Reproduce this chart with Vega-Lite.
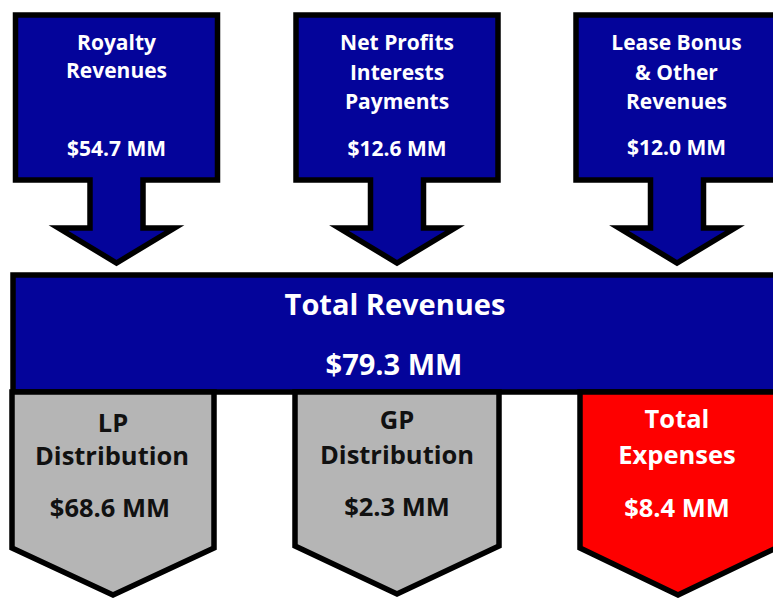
{
  "$schema": "https://vega.github.io/schema/vega-lite/v6.json",
  "width": 773,
  "height": 598,
  "padding": 0,
  "autosize": {"type": "fit", "contains": "padding"},
  "background": "white",
  "config": {"view": {"stroke": null}},
  "datasets": {
    "navy": [
      {"shape": "A", "i": 0, "x": 116.5, "y": 15},
      {"shape": "A", "i": 1, "x": 217.5, "y": 15},
      {"shape": "A", "i": 2, "x": 217.5, "y": 180},
      {"shape": "A", "i": 3, "x": 143, "y": 180},
      {"shape": "A", "i": 4, "x": 143, "y": 228},
      {"shape": "A", "i": 5, "x": 174.5, "y": 228},
      {"shape": "A", "i": 6, "x": 116.5, "y": 263},
      {"shape": "A", "i": 7, "x": 58.5, "y": 228},
      {"shape": "A", "i": 8, "x": 90, "y": 228},
      {"shape": "A", "i": 9, "x": 90, "y": 180},
      {"shape": "A", "i": 10, "x": 15.5, "y": 180},
      {"shape": "A", "i": 11, "x": 15.5, "y": 15},
      {"shape": "A", "i": 12, "x": 116.5, "y": 15},
      {"shape": "B", "i": 0, "x": 397, "y": 15},
      {"shape": "B", "i": 1, "x": 498, "y": 15},
      {"shape": "B", "i": 2, "x": 498, "y": 180},
      {"shape": "B", "i": 3, "x": 423.5, "y": 180},
      {"shape": "B", "i": 4, "x": 423.5, "y": 228},
      {"shape": "B", "i": 5, "x": 455, "y": 228},
      {"shape": "B", "i": 6, "x": 397, "y": 263},
      {"shape": "B", "i": 7, "x": 339, "y": 228},
      {"shape": "B", "i": 8, "x": 370.5, "y": 228},
      {"shape": "B", "i": 9, "x": 370.5, "y": 180},
      {"shape": "B", "i": 10, "x": 296, "y": 180},
      {"shape": "B", "i": 11, "x": 296, "y": 15},
      {"shape": "B", "i": 12, "x": 397, "y": 15},
      {"shape": "C", "i": 0, "x": 677, "y": 15},
      {"shape": "C", "i": 1, "x": 778, "y": 15},
      {"shape": "C", "i": 2, "x": 778, "y": 180},
      {"shape": "C", "i": 3, "x": 703.5, "y": 180},
      {"shape": "C", "i": 4, "x": 703.5, "y": 228},
      {"shape": "C", "i": 5, "x": 735, "y": 228},
      {"shape": "C", "i": 6, "x": 677, "y": 263},
      {"shape": "C", "i": 7, "x": 619, "y": 228},
      {"shape": "C", "i": 8, "x": 650.5, "y": 228},
      {"shape": "C", "i": 9, "x": 650.5, "y": 180},
      {"shape": "C", "i": 10, "x": 576, "y": 180},
      {"shape": "C", "i": 11, "x": 576, "y": 15},
      {"shape": "C", "i": 12, "x": 677, "y": 15},
      {"shape": "T", "i": 0, "x": 400, "y": 275},
      {"shape": "T", "i": 1, "x": 790, "y": 275},
      {"shape": "T", "i": 2, "x": 790, "y": 392},
      {"shape": "T", "i": 3, "x": 13, "y": 392},
      {"shape": "T", "i": 4, "x": 13, "y": 275},
      {"shape": "T", "i": 5, "x": 400, "y": 275}
    ],
    "gray": [
      {"shape": "LP", "i": 0, "x": 113, "y": 392},
      {"shape": "LP", "i": 1, "x": 214, "y": 392},
      {"shape": "LP", "i": 2, "x": 214, "y": 548},
      {"shape": "LP", "i": 3, "x": 113, "y": 595},
      {"shape": "LP", "i": 4, "x": 12, "y": 548},
      {"shape": "LP", "i": 5, "x": 12, "y": 392},
      {"shape": "LP", "i": 6, "x": 113, "y": 392},
      {"shape": "GP", "i": 0, "x": 397, "y": 392},
      {"shape": "GP", "i": 1, "x": 499, "y": 392},
      {"shape": "GP", "i": 2, "x": 499, "y": 546},
      {"shape": "GP", "i": 3, "x": 397, "y": 594},
      {"shape": "GP", "i": 4, "x": 295, "y": 546},
      {"shape": "GP", "i": 5, "x": 295, "y": 392},
      {"shape": "GP", "i": 6, "x": 397, "y": 392}
    ],
    "red": [
      {"shape": "EX", "i": 0, "x": 678, "y": 392},
      {"shape": "EX", "i": 1, "x": 776, "y": 392},
      {"shape": "EX", "i": 2, "x": 776, "y": 548},
      {"shape": "EX", "i": 3, "x": 678, "y": 595},
      {"shape": "EX", "i": 4, "x": 580, "y": 548},
      {"shape": "EX", "i": 5, "x": 580, "y": 392},
      {"shape": "EX", "i": 6, "x": 678, "y": 392}
    ],
    "labels": [
      {"g": "top", "t": "Royalty", "x": 116.5, "y": 50},
      {"g": "top", "t": "Revenues", "x": 116.5, "y": 78},
      {"g": "top", "t": "$54.7 MM", "x": 116.5, "y": 156},
      {"g": "top", "t": "Net Profits", "x": 397, "y": 50},
      {"g": "top", "t": "Interests", "x": 397, "y": 80},
      {"g": "top", "t": "Payments", "x": 397, "y": 109},
      {"g": "top", "t": "$12.6 MM", "x": 397, "y": 156},
      {"g": "top", "t": "Lease Bonus", "x": 676.5, "y": 50},
      {"g": "top", "t": "& Other", "x": 676.5, "y": 80},
      {"g": "top", "t": "Revenues", "x": 676.5, "y": 109},
      {"g": "top", "t": "$12.0 MM", "x": 676.5, "y": 155},
      {"g": "total", "t": "Total Revenues", "x": 395, "y": 315},
      {"g": "total", "t": "$79.3 MM", "x": 394, "y": 375},
      {"g": "dark", "t": "LP", "x": 113, "y": 432},
      {"g": "dark", "t": "Distribution", "x": 112, "y": 465},
      {"g": "dark", "t": "$68.6 MM", "x": 110, "y": 517},
      {"g": "dark", "t": "GP", "x": 397, "y": 429},
      {"g": "dark", "t": "Distribution", "x": 397, "y": 464},
      {"g": "dark", "t": "$2.3 MM", "x": 397, "y": 516},
      {"g": "light", "t": "Total", "x": 677, "y": 428},
      {"g": "light", "t": "Expenses", "x": 677, "y": 464},
      {"g": "light", "t": "$8.4 MM", "x": 677, "y": 517}
    ]
  },
  "encoding": {
    "x": {"field": "x", "type": "quantitative", "scale": {"domain": [0, 773], "nice": false, "zero": false}, "axis": null},
    "y": {"field": "y", "type": "quantitative", "scale": {"domain": [0, 598], "nice": false, "zero": false, "reverse": true}, "axis": null}
  },
  "layer": [
    {
      "data": {"name": "navy"},
      "mark": {"type": "line", "fill": "#04049a", "stroke": "#000000", "strokeWidth": 5.5, "strokeJoin": "miter", "clip": true},
      "encoding": {"order": {"field": "i", "type": "quantitative"}, "detail": {"field": "shape", "type": "nominal"}}
    },
    {
      "data": {"name": "gray"},
      "mark": {"type": "line", "fill": "#b5b5b5", "stroke": "#000000", "strokeWidth": 5.5, "strokeJoin": "miter", "clip": true},
      "encoding": {"order": {"field": "i", "type": "quantitative"}, "detail": {"field": "shape", "type": "nominal"}}
    },
    {
      "data": {"name": "red"},
      "mark": {"type": "line", "fill": "#fe0000", "stroke": "#000000", "strokeWidth": 5.5, "strokeJoin": "miter", "clip": true},
      "encoding": {"order": {"field": "i", "type": "quantitative"}, "detail": {"field": "shape", "type": "nominal"}}
    },
    {
      "data": {"name": "labels"},
      "transform": [{"filter": "datum.g === 'top'"}],
      "mark": {"type": "text", "font": "Open Sans", "fontWeight": "bold", "fontSize": 21, "color": "#ffffff", "align": "center", "baseline": "alphabetic"},
      "encoding": {"text": {"field": "t", "type": "nominal"}}
    },
    {
      "data": {"name": "labels"},
      "transform": [{"filter": "datum.g === 'total'"}],
      "mark": {"type": "text", "font": "Open Sans", "fontWeight": "bold", "fontSize": 29, "color": "#ffffff", "align": "center", "baseline": "alphabetic"},
      "encoding": {"text": {"field": "t", "type": "nominal"}}
    },
    {
      "data": {"name": "labels"},
      "transform": [{"filter": "datum.g === 'dark'"}],
      "mark": {"type": "text", "font": "Open Sans", "fontWeight": "bold", "fontSize": 25.5, "color": "#111111", "align": "center", "baseline": "alphabetic"},
      "encoding": {"text": {"field": "t", "type": "nominal"}}
    },
    {
      "data": {"name": "labels"},
      "transform": [{"filter": "datum.g === 'light'"}],
      "mark": {"type": "text", "font": "Open Sans", "fontWeight": "bold", "fontSize": 25.5, "color": "#ffffff", "align": "center", "baseline": "alphabetic"},
      "encoding": {"text": {"field": "t", "type": "nominal"}}
    }
  ]
}
